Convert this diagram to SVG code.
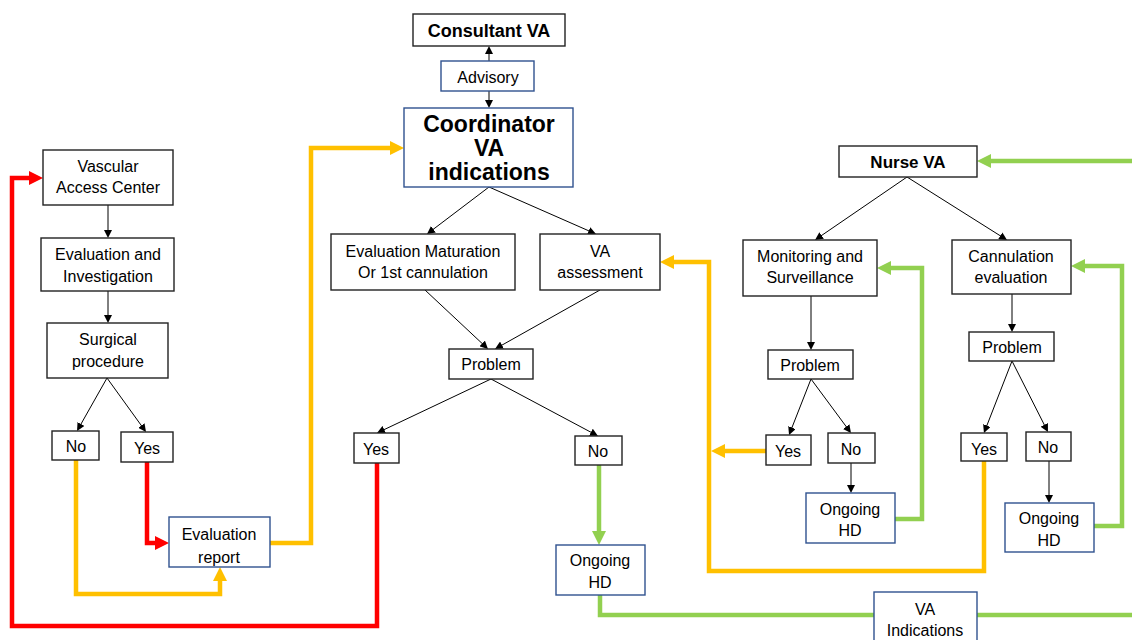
<svg xmlns="http://www.w3.org/2000/svg" width="1132" height="640" viewBox="0 0 1132 640">
<defs>
<style>
.n rect{fill:#fff;stroke:#222;stroke-width:1.4}
.b rect{stroke:#2F528F}
text{font-family:"Liberation Sans",Arial,sans-serif;font-size:16px;fill:#000;text-anchor:middle}
.bold{font-weight:bold}
.t{fill:none;stroke:#000;stroke-width:1}
.r{fill:none;stroke:#FF0000;stroke-width:4.5}
.y{fill:none;stroke:#FFC000;stroke-width:4.5}
.g{fill:none;stroke:#92D050;stroke-width:4.5}
</style>
<marker id="ak" markerUnits="userSpaceOnUse" markerWidth="8" markerHeight="8" refX="1" refY="4" orient="auto"><path d="M0,0 L8,4 L0,8 z" fill="#000"/></marker>
<marker id="ar" markerUnits="userSpaceOnUse" markerWidth="14" markerHeight="14" refX="1" refY="7" orient="auto"><path d="M0,0 L14,7 L0,14 z" fill="#FF0000"/></marker>
<marker id="ay" markerUnits="userSpaceOnUse" markerWidth="14" markerHeight="14" refX="1" refY="7" orient="auto"><path d="M0,0 L14,7 L0,14 z" fill="#FFC000"/></marker>
<marker id="ag" markerUnits="userSpaceOnUse" markerWidth="14" markerHeight="14" refX="1" refY="7" orient="auto"><path d="M0,0 L14,7 L0,14 z" fill="#92D050"/></marker>
<clipPath id="cr"><rect x="169" y="517" width="101" height="50"/></clipPath>
<clipPath id="ca"><rect x="441" y="61" width="93" height="30"/></clipPath>
</defs>
<g id="connectors">
<path class="t" marker-end="url(#ak)" d="M489,61 L489,53"/>
<path class="t" marker-end="url(#ak)" d="M489,91 L489,101"/>
<path class="t" marker-end="url(#ak)" d="M489,187 L432.6,229.8"/>
<path class="t" marker-end="url(#ak)" d="M489,187 L589.6,231.2"/>
<path class="t" marker-end="url(#ak)" d="M425,290 L482.9,344.2"/>
<path class="t" marker-end="url(#ak)" d="M600,290 L501.1,345.6"/>
<path class="t" marker-end="url(#ak)" d="M491,379 L383.3,430"/>
<path class="t" marker-end="url(#ak)" d="M491,379 L591.8,432.7"/>
<path class="t" marker-end="url(#ak)" d="M108,205 L108,231"/>
<path class="t" marker-end="url(#ak)" d="M108,291 L108,316"/>
<path class="t" marker-end="url(#ak)" d="M107,378 L80.5,424.9"/>
<path class="t" marker-end="url(#ak)" d="M107,378 L141.9,426.3"/>
<path class="t" marker-end="url(#ak)" d="M907,177 L820.8,236"/>
<path class="t" marker-end="url(#ak)" d="M907,177 L1001.1,236.3"/>
<path class="t" marker-end="url(#ak)" d="M811,296 L811,343"/>
<path class="t" marker-end="url(#ak)" d="M1012,294 L1012,325"/>
<path class="t" marker-end="url(#ak)" d="M811,379 L791.6,428.5"/>
<path class="t" marker-end="url(#ak)" d="M811,379 L846.8,427.4"/>
<path class="t" marker-end="url(#ak)" d="M851,463 L851,486"/>
<path class="t" marker-end="url(#ak)" d="M1012,361 L986.5,426.5"/>
<path class="t" marker-end="url(#ak)" d="M1012,361 L1044.8,425.8"/>
<path class="t" marker-end="url(#ak)" d="M1049,461 L1049,496"/>
<path class="r" marker-end="url(#ar)" d="M377,463 L377,626 L12,626 L12,178 L30,178"/>
<path class="r" marker-end="url(#ar)" d="M147,462 L147,543 L156,543"/>
<path class="y" marker-end="url(#ay)" d="M76,460 L76,594 L220,594 L220,580"/>
<path class="y" marker-end="url(#ay)" d="M270,543 L311,543 L311,148 L391,148"/>
<path class="y" marker-end="url(#ay)" d="M766,451 L724,451"/>
<path class="y" marker-end="url(#ay)" d="M984,461 L984,571 L709,571 L709,262 L673,262"/>
<path class="g" marker-end="url(#ag)" d="M599,465 L599,532"/>
<path class="g" d="M600,595 L600,615 L1132,615"/>
<path class="g" marker-end="url(#ag)" d="M1132,161 L990,161"/>
<path class="g" marker-end="url(#ag)" d="M895,519 L922,519 L922,268 L890,268"/>
<path class="g" marker-end="url(#ag)" d="M1094,526 L1122,526 L1122,266 L1084,266"/>
</g>
<g id="consultant" class="n"><rect x="413" y="14" width="152" height="32"/><text x="489" y="37" class="bold" style="font-size:18px">Consultant VA</text></g>
<g id="advisory" class="n b"><rect x="441" y="61" width="93" height="30"/><text x="488" y="83" clip-path="url(#ca)">Advisory</text></g>
<g id="coordinator" class="n b"><rect x="404" y="108" width="169" height="79"/><text x="489" y="132" class="bold" style="font-size:23px">Coordinator</text><text x="489" y="156" class="bold" style="font-size:23px">VA</text><text x="489" y="180" class="bold" style="font-size:23px">indications</text></g>
<g id="vac" class="n"><rect x="43" y="150" width="130" height="55"/><text x="108" y="172">Vascular</text><text x="108" y="193">Access Center</text></g>
<g id="evalinv" class="n"><rect x="41" y="238" width="133" height="53"/><text x="108" y="260">Evaluation and</text><text x="108" y="282">Investigation</text></g>
<g id="surgical" class="n"><rect x="47" y="323" width="121" height="55"/><text x="108" y="345">Surgical</text><text x="108" y="367">procedure</text></g>
<g id="no-left" class="n"><rect x="52" y="431" width="47" height="29"/><text x="76" y="452">No</text></g>
<g id="yes-left" class="n"><rect x="121" y="432" width="52" height="30"/><text x="147" y="454">Yes</text></g>
<g id="evalreport" class="n b"><rect x="169" y="517" width="101" height="50"/><g clip-path="url(#cr)"><text x="219" y="540">Evaluation</text><text x="219" y="563">report</text></g></g>
<g id="evalmat" class="n"><rect x="331" y="234" width="184" height="56"/><text x="423" y="257">Evaluation Maturation</text><text x="423" y="278">Or 1st cannulation</text></g>
<g id="vaassess" class="n"><rect x="540" y="234" width="120" height="56"/><text x="600" y="257">VA</text><text x="600" y="278">assessment</text></g>
<g id="problem-center" class="n"><rect x="449" y="349" width="84" height="30"/><text x="491" y="370">Problem</text></g>
<g id="yes-center" class="n"><rect x="354" y="433" width="45" height="30"/><text x="376" y="455">Yes</text></g>
<g id="no-center" class="n"><rect x="575" y="436" width="47" height="29"/><text x="598" y="457">No</text></g>
<g id="ongoing-center" class="n b"><rect x="556" y="545" width="89" height="50"/><text x="600" y="566">Ongoing</text><text x="600" y="588">HD</text></g>
<g id="vaindications" class="n b"><rect x="874" y="592" width="103" height="52"/><text x="925" y="615">VA</text><text x="925" y="636">Indications</text></g>
<g id="nurse" class="n"><rect x="839" y="146" width="138" height="31"/><text x="908" y="168" class="bold" style="font-size:17px">Nurse VA</text></g>
<g id="monitoring" class="n"><rect x="743" y="240" width="134" height="56"/><text x="810" y="262">Monitoring and</text><text x="810" y="283">Surveillance</text></g>
<g id="cannulation" class="n"><rect x="952" y="240" width="119" height="54"/><text x="1011" y="262">Cannulation</text><text x="1011" y="283">evaluation</text></g>
<g id="problem-mon" class="n"><rect x="768" y="350" width="85" height="29"/><text x="810" y="371">Problem</text></g>
<g id="problem-cann" class="n"><rect x="969" y="332" width="85" height="29"/><text x="1012" y="353">Problem</text></g>
<g id="yes-mon" class="n"><rect x="766" y="435" width="45" height="30"/><text x="788" y="457">Yes</text></g>
<g id="no-mon" class="n"><rect x="828" y="433" width="47" height="30"/><text x="851" y="455">No</text></g>
<g id="yes-cann" class="n"><rect x="961" y="433" width="46" height="28"/><text x="984" y="455">Yes</text></g>
<g id="no-cann" class="n"><rect x="1026" y="432" width="45" height="29"/><text x="1048" y="453">No</text></g>
<g id="ongoing-mon" class="n b"><rect x="806" y="493" width="89" height="50"/><text x="850" y="515">Ongoing</text><text x="850" y="536">HD</text></g>
<g id="ongoing-cann" class="n b"><rect x="1005" y="503" width="89" height="49"/><text x="1049" y="524">Ongoing</text><text x="1049" y="546">HD</text></g>
</svg>
